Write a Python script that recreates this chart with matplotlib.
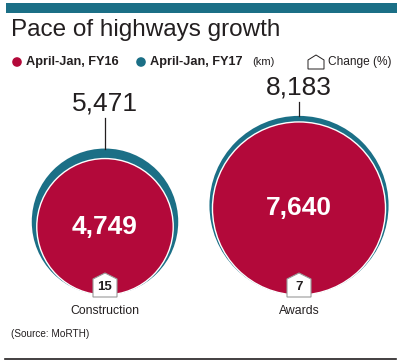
import matplotlib
matplotlib.use("Agg")
import numpy as np
import matplotlib.pyplot as plt
from matplotlib.patches import Circle, Polygon, Rectangle

# --- data ---
categories = ["Construction", "Awards"]
fy16 = [4749, 7640]
fy17 = [5471, 8183]
change_pct = [15, 7]

# --- layout (pixel coordinates) ---
W, H = 401, 360
centers_x = [105, 299]
base_y = 295
label_y = [104, 88]
scale = 0.99  # px radius per sqrt(km)

RED = "#b3093a"
TEAL = "#1b6f86"
DARK = "#231f20"
plt.rcParams["font.family"] = ["Liberation Sans", "DejaVu Sans"]

fig = plt.figure(figsize=(W / 100, H / 100), dpi=100)
ax = fig.add_axes([0, 0, 1, 1])
ax.set_xlim(0, W)
ax.set_ylim(H, 0)
ax.set_aspect("equal")
ax.axis("off")

# header bar and title
ax.add_patch(Rectangle((6, 3), 391, 9.5, color=TEAL, lw=0))
ax.text(11, 30, "Pace of highways growth", fontsize=17.5, color=DARK, va="center", ha="left")

# legend row
ax.add_patch(Circle((17, 62), 4.8, color=RED, lw=0))
ax.text(26, 62, "April-Jan, FY16", fontsize=9.2, color=DARK, va="center", fontweight="semibold")
ax.add_patch(Circle((141, 62), 4.8, color=TEAL, lw=0))
ax.text(150, 62, "April-Jan, FY17", fontsize=9.2, color=DARK, va="center", fontweight="semibold")
ax.text(252, 62, "(km)", fontsize=8, color=DARK, va="center")
ax.add_patch(Polygon([(308, 69), (308, 60), (316, 55), (324, 60), (324, 69)],
                     closed=True, fc="white", ec=DARK, lw=0.7))
ax.text(328, 62, "Change (%)", fontsize=8.6, color=DARK, va="center")

for i, cat in enumerate(categories):
    cx = centers_x[i]
    r17 = scale * np.sqrt(fy17[i])
    r16 = scale * np.sqrt(fy16[i])
    ax.add_patch(Circle((cx, base_y - r17), r17, color=TEAL, lw=0))
    ax.add_patch(Circle((cx, base_y - r16), r16, fc=RED, ec="white", lw=1))
    # FY17 label with leader
    top17 = base_y - 2 * r17
    ax.text(cx, label_y[i], f"{fy17[i]:,}", fontsize=19, color=DARK, ha="center", va="center")
    ax.plot([cx, cx], [label_y[i] + 14, top17], color=DARK, lw=0.9)
    # FY16 label inside
    ax.text(cx, base_y - r16, f"{fy16[i]:,}", fontsize=19, color="white",
            ha="center", va="center", fontweight="bold")
    # change badge
    ax.add_patch(Polygon([(cx - 12, 297), (cx - 12, 279), (cx, 273), (cx + 12, 279), (cx + 12, 297)],
                         closed=True, fc="white", ec="#999999", lw=0.8))
    ax.text(cx, 287, str(change_pct[i]), fontsize=9.5, color=DARK, ha="center", va="center",
            fontweight="bold")
    ax.text(cx, 311, cat, fontsize=8.8, color=DARK, ha="center", va="center")

ax.text(11, 334, "(Source: MoRTH)", fontsize=7.2, color=DARK, va="center")
ax.plot([5, 396], [359, 359], color=DARK, lw=1.2)

fig.savefig("out.png", dpi=100, facecolor="white")
